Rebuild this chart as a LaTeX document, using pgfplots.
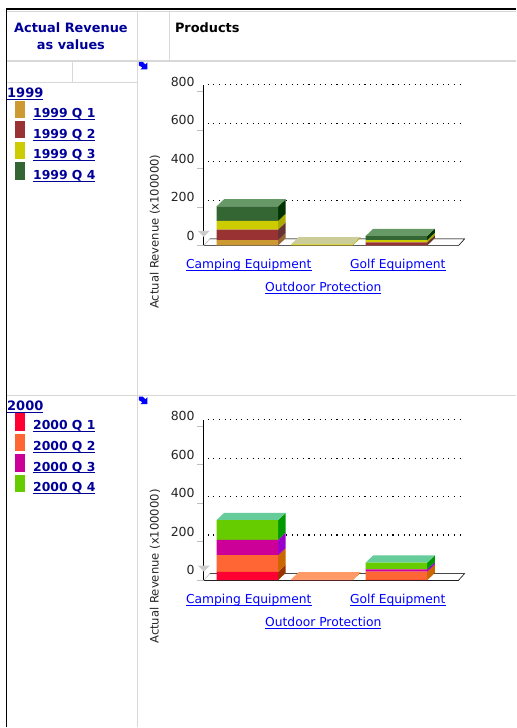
\documentclass[border=0pt]{standalone}
\usepackage{fontspec}
\setmainfont{DejaVu Sans}
\usepackage{pgfplots}
\pgfplotsset{compat=1.18}
\usepackage{pgfplotstable}

\definecolor{hdr}{HTML}{000099}
\definecolor{linkblue}{HTML}{0000FF}
\definecolor{rule}{HTML}{D8D8D8}
% 1999 series: front, side
\definecolor{aone}{HTML}{CC9933}   \definecolor{aoneS}{HTML}{996633}
\definecolor{atwo}{HTML}{993333}   \definecolor{atwoS}{HTML}{663333}
\definecolor{athree}{HTML}{CCCC00} \definecolor{athreeS}{HTML}{AAAA00}
\definecolor{afour}{HTML}{336633}  \definecolor{afourS}{HTML}{003300}
\definecolor{afourtop}{HTML}{669966} \definecolor{atop}{HTML}{CCCC99}
% 2000 series
\definecolor{bone}{HTML}{FF0033}   \definecolor{boneS}{HTML}{993300}
\definecolor{btwo}{HTML}{FF6633}   \definecolor{btwoS}{HTML}{CC6600}
\definecolor{bthree}{HTML}{CC0099} \definecolor{bthreeS}{HTML}{9900CC}
\definecolor{bfour}{HTML}{66CC00}  \definecolor{bfourS}{HTML}{009900}
\definecolor{bfourtop}{HTML}{66CC99} \definecolor{btop}{HTML}{FF9966}

% front faces of the stacks
\pgfplotstableread{
x q1 q2 q3 q4
0 28 55 45 75
1 0.5 0.5 5 0
2 1 15 12 21
}\datanine
\pgfplotstableread{
x q1 q2 q3 q4
0 43 87 80 102
1 0.5 3 0 0
2 1 43 12 35
}\datazero

\newcommand{\hw}{0.413}  % half bar width
\newcommand{\dx}{0.103}  % bar depth
\newcommand{\dy}{38}

% side face of a segment: centre, from, to, colour
\newcommand{\sideface}[4]{%
  \pgfmathsetmacro\xa{#1+\hw}\pgfmathsetmacro\xb{#1+\hw+\dx}%
  \pgfmathsetmacro\ya{#2+\dy}\pgfmathsetmacro\yb{#3+\dy}%
  \addplot[fill=#4,draw=none,forget plot] coordinates {(\xa,#2)(\xb,\ya)(\xb,\yb)(\xa,#3)};
}
% top face: centre, height, colour
\newcommand{\topface}[3]{%
  \pgfmathsetmacro\xa{#1-\hw}\pgfmathsetmacro\xb{#1+\hw}%
  \pgfmathsetmacro\xc{#1+\hw+\dx}\pgfmathsetmacro\xd{#1-\hw+\dx}%
  \pgfmathsetmacro\yb{#2+\dy}%
  \addplot[fill=#3,draw=none,forget plot] coordinates {(\xa,#2)(\xb,#2)(\xc,\yb)(\xd,\yb)};
}

% underline close to the baseline, in the text colour
\newcommand{\ul}[1]{\setbox0=\hbox{#1}\rlap{\rule[-2.3pt]{\wd0}{0.9pt}}\box0 }
\newcommand{\lnk}[1]{\textcolor{linkblue}{\ul{#1}}}

\pgfplotsset{
  chartbase/.style={
    scale only axis, width=255pt, height=160.7pt,
    xmin=-0.583, xmax=2.835, ymin=0, ymax=835,
    clip=false, enlargelimits=false,
  },
  backaxis/.style={
    chartbase,
    axis x line*=bottom, axis y line*=left,
    axis line style={black,line width=1.3pt,-},
    xtick={0,1,2},
    xticklabels={\lnk{Camping Equipment},\raisebox{-23pt}{\lnk{Outdoor Protection}},\lnk{Golf Equipment}},
    x tick style={draw=none},
    x tick label style={anchor=base,yshift=-16pt,xshift=1.5pt,font=\fontsize{12.3}{14}\selectfont},
    ytick={0,200,400,600,800},
    y tick style={draw=black!25,line width=0.8pt},
    tick align=outside,
    major tick length=7pt,
    /pgf/number format/assume math mode=true,
    y tick label style={yshift=10pt,xshift=-1pt,font=\fontsize{12.5}{14}\selectfont,text=black!85,inner xsep=1pt},
  },
  frontaxis/.style={
    chartbase, hide axis, ybar stacked, bar width=61.6pt,
  },
  griddots/.style={black,line width=1.1pt,dash pattern=on 1.1pt off 4.5pt,forget plot},
}

% walls and floor of the fake 3D box
\newcommand{\wall}{%
  \addplot[fill=white,draw=black!30,line width=0.5pt,forget plot] coordinates {(-0.583,0)(-0.503,34)(2.915,34)(2.835,0)};
  \addplot[black,line width=0.5pt,forget plot] coordinates {(-0.503,34)(2.915,34)(2.835,0)};
  \addplot[fill=black!20,draw=none,forget plot] coordinates {(-0.663,76)(-0.503,76)(-0.583,45)};
  \addplot[griddots] coordinates {(-0.53,835)(2.89,835)};
  \addplot[griddots] coordinates {(-0.53,635)(2.89,635)};
  \addplot[griddots] coordinates {(-0.53,435)(2.89,435)};
  \addplot[griddots] coordinates {(-0.53,235)(2.89,235)};
}

\newcommand{\leglabel}[2]{%
  \node[anchor=base west,inner sep=0pt,text=hdr,font=\fontsize{12.4}{14}\selectfont\bfseries] at (33,-#1) {\ul{#2}};
}
\newcommand{\corner}[1]{% little blue arrow
  \fill[linkblue] (139,-#1) -- ++(4,0) -- ++(2.5,-2.5) -- ++(2,2) -- ++(0,-7) -- ++(-7,0) -- ++(2,2) -- ++(-3.5,2) -- cycle;
}

\begin{document}
\begin{tikzpicture}[x=1pt,y=1pt]
  \path[fill=white] (0,0) rectangle (516,-728);

  % table frame
  \draw[rule,line width=1.3pt] (7,-11.5) -- (516,-11.5);
  \draw[rule,line width=1.3pt] (7,-61) -- (516,-61);
  \draw[rule,line width=1.3pt] (7,-82.5) -- (137.5,-82.5);
  \draw[rule,line width=1.3pt] (7,-395.7) -- (516,-395.7);
  \draw[rule,line width=1.3pt] (137.5,-11.5) -- (137.5,-728);
  \draw[rule,line width=1.3pt] (169.5,-11.5) -- (169.5,-61);
  \draw[rule,line width=1.3pt] (72.3,-61) -- (72.3,-82.5);
  \draw[black,line width=1.2pt] (516,-9) -- (6.5,-9) -- (6.5,-728);

  % headers
  \node[text=hdr,font=\fontsize{12.9}{15}\selectfont\bfseries] at (71,-28) {Actual Revenue};
  \node[text=hdr,font=\fontsize{12.9}{15}\selectfont\bfseries] at (71,-45) {as values};
  \node[anchor=west,inner sep=0pt,font=\fontsize{12.9}{15}\selectfont\bfseries] at (175,-28) {Products};

  % row legends
  \node[anchor=base west,inner sep=0pt,text=hdr,font=\fontsize{13}{15}\selectfont\bfseries] at (7,-97.5) {\ul{1999}};
  \fill[aone]   (15,-101) rectangle (25,-118);
  \fill[atwo]   (15,-121) rectangle (25,-138.5);
  \fill[athree] (15,-142) rectangle (25,-159);
  \fill[afour]  (15,-162) rectangle (25,-180);
  \leglabel{118}{1999 Q 1}
  \leglabel{138.5}{1999 Q 2}
  \leglabel{159}{1999 Q 3}
  \leglabel{179.5}{1999 Q 4}

  \node[anchor=base west,inner sep=0pt,text=hdr,font=\fontsize{13}{15}\selectfont\bfseries] at (7,-410.5) {\ul{2000}};
  \fill[bone]   (15,-413) rectangle (25,-431);
  \fill[btwo]   (15,-434) rectangle (25,-451.6);
  \fill[bthree] (15,-454) rectangle (25,-472);
  \fill[bfour]  (15,-475) rectangle (25,-492.6);
  \leglabel{430}{2000 Q 1}
  \leglabel{451}{2000 Q 2}
  \leglabel{471.5}{2000 Q 3}
  \leglabel{492}{2000 Q 4}

  \corner{62}
  \corner{397}

  \node[rotate=90,text=black!85,font=\fontsize{11.6}{14}\selectfont] at (155,-232) {Actual Revenue (x100000)};
  \node[rotate=90,text=black!85,font=\fontsize{11.6}{14}\selectfont] at (155,-567) {Actual Revenue (x100000)};

  % 1999 chart
  \begin{axis}[backaxis,at={(204pt,-245.7pt)},anchor=south west]
    \wall
    \sideface{0}{0}{28}{aoneS}\sideface{0}{28}{83}{atwoS}\sideface{0}{83}{128}{athreeS}\sideface{0}{128}{203}{afourS}
    \topface{0}{203}{afourtop}
    \sideface{1}{0}{6}{athreeS}
    \topface{1}{6}{atop}
    \sideface{2}{0}{1}{aoneS}\sideface{2}{1}{16}{atwoS}\sideface{2}{16}{28}{athreeS}\sideface{2}{28}{49}{afourS}
    \topface{2}{49}{afourtop}
  \end{axis}
  \begin{axis}[frontaxis,at={(204pt,-245.7pt)},anchor=south west]
    \addplot[fill=aone,draw=none] table[x=x,y=q1] {\datanine};
    \addplot[fill=atwo,draw=none] table[x=x,y=q2] {\datanine};
    \addplot[fill=athree,draw=none] table[x=x,y=q3] {\datanine};
    \addplot[fill=afour,draw=none] table[x=x,y=q4] {\datanine};
  \end{axis}

  % 2000 chart
  \begin{axis}[backaxis,at={(204pt,-580.7pt)},anchor=south west]
    \wall
    \sideface{0}{0}{43}{boneS}\sideface{0}{43}{130}{btwoS}\sideface{0}{130}{210}{bthreeS}\sideface{0}{210}{312}{bfourS}
    \topface{0}{312}{bfourtop}
    \sideface{1}{0}{3.5}{btwoS}
    \topface{1}{3.5}{btop}
    \sideface{2}{0}{1}{boneS}\sideface{2}{1}{44}{btwoS}\sideface{2}{44}{56}{bthreeS}\sideface{2}{56}{91}{bfourS}
    \topface{2}{91}{bfourtop}
  \end{axis}
  \begin{axis}[frontaxis,at={(204pt,-580.7pt)},anchor=south west]
    \addplot[fill=bone,draw=none] table[x=x,y=q1] {\datazero};
    \addplot[fill=btwo,draw=none] table[x=x,y=q2] {\datazero};
    \addplot[fill=bthree,draw=none] table[x=x,y=q3] {\datazero};
    \addplot[fill=bfour,draw=none] table[x=x,y=q4] {\datazero};
  \end{axis}
\end{tikzpicture}
\end{document}
